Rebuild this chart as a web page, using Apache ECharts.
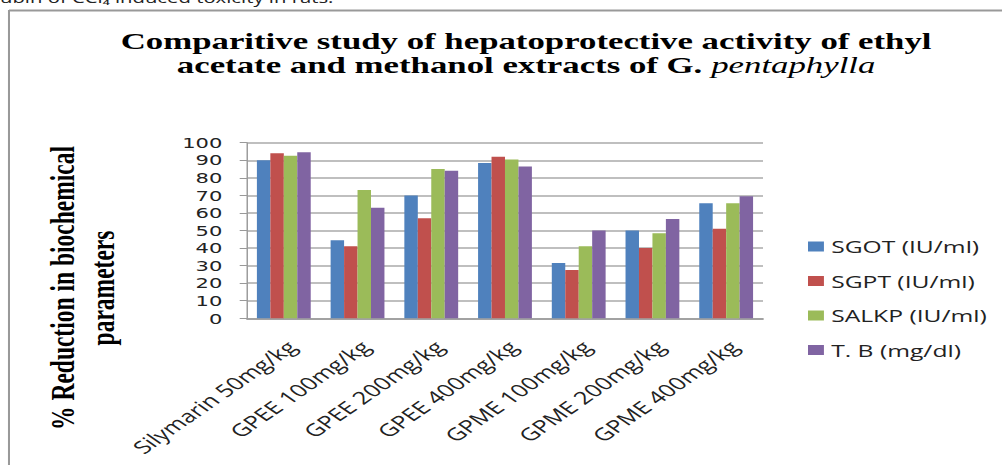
<!DOCTYPE html>
<html>
<head>
<meta charset="utf-8">
<script src="https://cdn.jsdelivr.net/npm/echarts@6/dist/echarts.min.js"></script>
<style>
html,body{margin:0;padding:0;overflow:hidden;background:#fff;}
#main{width:691px;height:465px;transform:scaleX(1.45007);transform-origin:0 0;}
</style>
</head>
<body>
<div id="main"></div>
<script>
const categories = ['Silymarin 50mg/kg','GPEE 100mg/kg','GPEE 200mg/kg','GPEE 400mg/kg','GPME 100mg/kg','GPME 200mg/kg','GPME 400mg/kg'];
const seriesNames = ['SGOT (IU/ml)','SGPT (IU/ml)','SALKP (IU/ml)','T. B (mg/dl)'];
const sgot  = [90, 44.5, 70, 88.5, 31.5, 50, 65.5];
const sgpt  = [94, 41, 57, 92, 27.5, 40, 51];
const salkp = [92.5, 73, 85, 90.5, 41, 48.5, 65.5];
const tb    = [94.5, 63, 84, 86.5, 50, 56.5, 69.5];
const colors = ['#4F81BD','#C0504D','#9BBB59','#8064A2'];
const yTicks = {min:0, max:100, interval:10};

const chart = echarts.init(document.getElementById('main'), null, {renderer:'svg'});
const values = [sgot, sgpt, salkp, tb];
const sans = '"Open Sans", sans-serif';
const serif = '"Liberation Serif", "Times New Roman", serif';

chart.setOption({
  animation:false,
  backgroundColor:'#fff',
  title:{
    left:362.8,
    top:29,
    padding:0,
    textAlign:'center',
    text:'{b|Comparitive study of hepatoprotective activity of ethyl}\n{b|acetate and methanol extracts of G. }{i|pentaphylla}',
    textStyle:{
      rich:{
        b:{fontFamily:serif, fontWeight:'bold', fontSize:24, lineHeight:24, color:'#000'},
        i:{fontFamily:serif, fontWeight:'normal', fontStyle:'italic', fontSize:24, lineHeight:24, color:'#000'}
      }
    }
  },
  legend:{
    orient:'vertical',
    left:557.2,
    top:236.5,
    padding:0,
    icon:'rect',
    itemWidth:11,
    itemHeight:10,
    itemGap:14.5,
    itemStyle:{borderWidth:0},
    textStyle:{fontFamily:sans, fontSize:17, color:'#222', lineHeight:20},
    data:seriesNames
  },
  grid:{left:170.3, right:164.8, top:142.7, bottom:146.7, containLabel:false},
  xAxis:{
    type:'category',
    data:categories,
    axisTick:{show:false},
    axisLine:{lineStyle:{color:'#999', width:1.5}},
    axisLabel:{
      interval:0, rotate:45, margin:20,
      verticalAlign:'top', lineHeight:15,
      fontFamily:sans, fontSize:17.5, color:'#222'
    }
  },
  yAxis:{
    type:'value',
    min:yTicks.min, max:yTicks.max, interval:yTicks.interval,
    axisLine:{show:true, lineStyle:{color:'#999', width:1}},
    axisTick:{show:true, inside:false, length:5, lineStyle:{color:'#999'}},
    splitLine:{lineStyle:{color:'#aaa', width:1.5}},
    axisLabel:{margin:17, fontFamily:'"DejaVu Sans", sans-serif', fontSize:14.5, color:'#222'}
  },
  series: seriesNames.map((n, k) => ({
    name:n,
    type:'bar',
    data:values[k],
    barGap:'0%',
    barCategoryGap:'27%',
    itemStyle:{color:colors[k]}
  })),
  graphic:[
    {type:'line', shape:{x1:6.2, y1:10.5, x2:700, y2:10.5}, style:{stroke:'#999', lineWidth:2}},
    {type:'line', shape:{x1:6.2, y1:10, x2:6.2, y2:470}, style:{stroke:'#999', lineWidth:1.4}},
    {type:'text', x:0, y:-10, style:{text:'ubin of CCl\u2084 induced toxicity in rats.', font:'14px "Open Sans", sans-serif', fill:'#222', textVerticalAlign:'top', verticalAlign:'top'}},
    {type:'text', x:56.8, y:288, rotation:Math.PI/2,
      style:{text:'% Reduction in biochemical\nparameters', font:'bold 23.5px "Liberation Serif", serif', fill:'#000',
        textAlign:'center', align:'center', textVerticalAlign:'middle', verticalAlign:'middle', lineHeight:28}}
  ]
});
</script>
</body>
</html>
